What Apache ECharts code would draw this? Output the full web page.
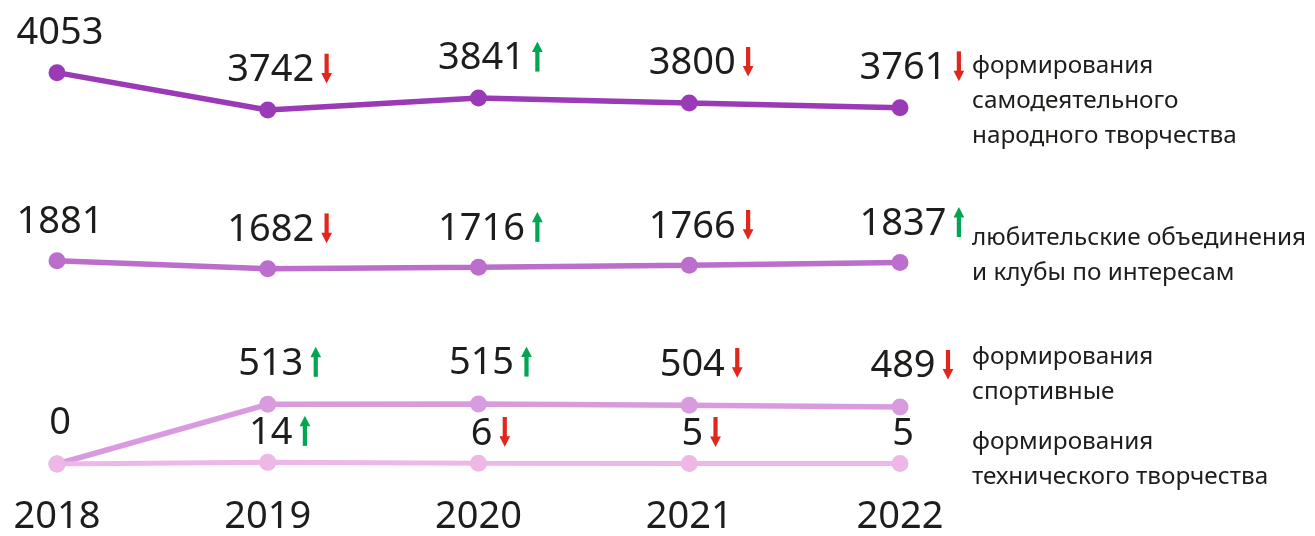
<!DOCTYPE html>
<html>
<head>
<meta charset="utf-8">
<script src="https://cdn.jsdelivr.net/npm/echarts@6/dist/echarts.min.js"></script>
<style>
html,body{margin:0;padding:0;background:#fff;}
#c{width:1315px;height:536px;}
</style>
</head>
<body>
<div id="c"></div>
<script>
const years = ['2018', '2019', '2020', '2021', '2022'];

const folkName = 'формирования\nсамодеятельного\nнародного творчества';
const folkValues = [4053, 3742, 3841, 3800, 3761];
const folkTrend = ['', 'down', 'up', 'down', 'down'];

const clubName = 'любительские объединения\nи клубы по интересам';
const clubValues = [1881, 1682, 1716, 1766, 1837];
const clubTrend = ['', 'down', 'up', 'down', 'up'];

const sportName = 'формирования\nспортивные';
const sportValues = [0, 513, 515, 504, 489];
const sportTrend = ['', 'up', 'up', 'down', 'down'];

const techName = 'формирования\nтехнического творчества';
const techValues = [0, 14, 6, 5, 5];
const techTrend = ['', 'up', 'down', 'down', ''];

const FONT = '"Noto Sans", "Open Sans", sans-serif';
const TEXT = '#1d1d1b';

function arrowSvg(dir, color) {
  const body = dir === 'down'
    ? '<rect x="3" y="0" width="4.2" height="21" fill="' + color + '"/><polygon points="-0.3,19.5 10.5,19.5 5.1,30" fill="' + color + '"/>'
    : '<rect x="3" y="9" width="4.2" height="21" fill="' + color + '"/><polygon points="-0.3,10.5 10.5,10.5 5.1,0" fill="' + color + '"/>';
  return 'data:image/svg+xml;charset=utf-8,' + encodeURIComponent(
    '<svg xmlns="http://www.w3.org/2000/svg" width="11" height="34" viewBox="0 0 10.4 34">' + body + '</svg>');
}
const upImg = arrowSvg('up', '#00a651');
const downImg = arrowSvg('down', '#e1261c');

const rich = {
  n: { fontFamily: FONT, fontSize: 38, lineHeight: 40, color: TEXT },
  sp: { width: 7, height: 34, fontSize: 10 },
  up: { width: 11, height: 34, fontSize: 10, backgroundColor: { image: upImg } },
  down: { width: 11, height: 34, fontSize: 10, backgroundColor: { image: downImg } }
};

function makeData(values, trend, hideFirst) {
  return values.map((v, i) => {
    const item = { value: v, label: { offset: trend[i] ? [12, 0] : [3, 0] } };
    if (hideFirst && i === 0) item.label.show = false;
    return item;
  });
}
function makeFormatter(trend) {
  return p => '{n|' + p.value + '}' + (trend[p.dataIndex] ? '{sp| }{' + trend[p.dataIndex] + '| }' : '');
}
function lineSeries(values, trend, color, gridIdx, distance, width, hideFirst) {
  return {
    type: 'line',
    xAxisIndex: gridIdx, yAxisIndex: gridIdx,
    data: makeData(values, trend, hideFirst),
    symbol: 'circle', symbolSize: 17,
    lineStyle: { color: color, width: width },
    itemStyle: { color: color },
    label: {
      show: true, position: 'top', distance: distance,
      formatter: makeFormatter(trend), rich: rich
    },
    emphasis: { disabled: true },
    silent: true
  };
}

const chart = echarts.init(document.getElementById('c'), null, { renderer: 'canvas' });
const gridLeft = 57, gridRight = 415;
const option = {
  animation: false,
  backgroundColor: '#ffffff',
  grid: [
    { left: gridLeft, right: gridRight, top: 67, height: 48 },
    { left: gridLeft, right: gridRight, top: 260, height: 12 },
    { left: gridLeft, right: gridRight, top: 400, height: 67 }
  ],
  xAxis: [0, 1, 2].map(i => ({
    type: 'category', gridIndex: i, data: years, boundaryGap: false,
    axisLine: { show: false }, axisTick: { show: false }, splitLine: { show: false },
    axisLabel: i === 2
      ? { show: true, fontFamily: FONT, fontSize: 38, color: TEXT, margin: 34 }
      : { show: false }
  })),
  yAxis: [
    { type: 'value', gridIndex: 0, min: 3700, max: 4100, show: false },
    { type: 'value', gridIndex: 1, min: 1600, max: 1900, show: false },
    { type: 'value', gridIndex: 2, min: 0, max: 550, show: false }
  ],
  series: [
    lineSeries(folkValues, folkTrend, '#9a3ab6', 0, 11, 5.5, false),
    lineSeries(clubValues, clubTrend, '#bb6ecb', 1, 10, 5.5, false),
    lineSeries(sportValues, sportTrend, '#d99be0', 2, 12, 5.5, false),
    lineSeries(techValues, techTrend, '#eeb7e7', 2, 1, 5, true)
  ],
  graphic: [
    { name: folkName, top: 49 },
    { name: clubName, top: 221 },
    { name: sportName, top: 340 },
    { name: techName, top: 425 }
  ].map(g => ({
    type: 'text', left: 972, top: g.top, silent: true,
    style: { text: g.name, fontFamily: FONT, fontSize: 24.3, lineHeight: 35, fill: TEXT }
  }))
};
chart.setOption(option);
</script>
</body>
</html>
